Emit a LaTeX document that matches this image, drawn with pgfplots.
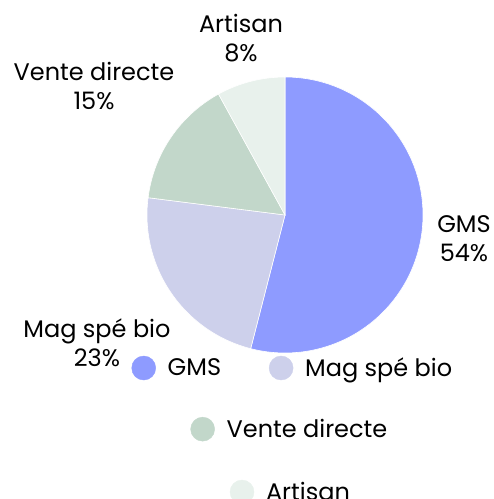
\documentclass[border=0pt]{standalone}
\usepackage{fontspec}
\setmainfont{Poppins}
\usepackage{pgfplots}
\pgfplotsset{compat=1.18}

\definecolor{cGMS}{HTML}{8E9BFF}
\definecolor{cMag}{HTML}{CDD0EB}
\definecolor{cVente}{HTML}{C2D7CA}
\definecolor{cArt}{HTML}{E8F1EC}

\newcommand\lbl{\fontsize{24}{29}\selectfont}

% one frame, 1 axis unit = 1pt, y measured from the bottom
\pgfplotsset{
  frame/.style={
    scale only axis, width=494pt, height=499pt,
    xmin=0, xmax=494, ymin=0, ymax=499,
    enlargelimits=false, hide axis, clip=false,
    legend style={draw=none, fill=none, font=\lbl,
      legend cell align=left,
      /tikz/every odd column/.append style={column sep=10pt},
      /tikz/every even column/.append style={column sep=46pt}},
  },
  dot/.style={only marks, mark=*, mark size=12pt, color=#1,
    mark options={draw=none, fill=#1}},
}

\begin{document}
\begin{tikzpicture}
\begin{axis}[frame, legend columns=2,
    legend style={at={(0.593,0.2625)}, anchor=center}]
  % shares in percent, clockwise from the top
  \def\cx{285}\def\cy{284}\def\r{138}
  \def\start{90}
  \foreach \v/\c in {54/cGMS, 23/cMag, 15/cVente, 8/cArt}{%
    \pgfmathsetmacro\stop{\start-3.6*\v}
    \edef\temp{\noexpand\fill[\c, draw=white, line width=0.6pt]
      (axis cs:\cx,\cy) -- ++(\start:\r pt)
      arc[start angle=\start, end angle=\stop, radius=\r pt] -- cycle;}
    \temp
    \global\let\start\stop
  }
  \node[align=center, font=\lbl] at (axis cs:241,460.5) {Artisan\\8\%};
  \node[align=center, font=\lbl] at (axis cs:94,413) {Vente directe\\15\%};
  \node[align=center, font=\lbl] at (axis cs:464,260.5) {GMS\\54\%};
  \node[align=center, font=\lbl] at (axis cs:97,156) {Mag spé bio\\23\%};
  \addlegendimage{dot=cGMS}\addlegendentry{GMS}
  \addlegendimage{dot=cMag}\addlegendentry{Mag spé bio}
\end{axis}
\begin{axis}[frame, legend style={at={(0.587,0.140)}, anchor=center}]
  \addlegendimage{dot=cVente}\addlegendentry{Vente directe}
\end{axis}
\begin{axis}[frame, legend style={at={(0.589,0.014)}, anchor=center}]
  \addlegendimage{dot=cArt}\addlegendentry{Artisan}
\end{axis}
\pgfresetboundingbox
\useasboundingbox (0,0) rectangle (494pt,499pt);
\end{tikzpicture}
\end{document}
